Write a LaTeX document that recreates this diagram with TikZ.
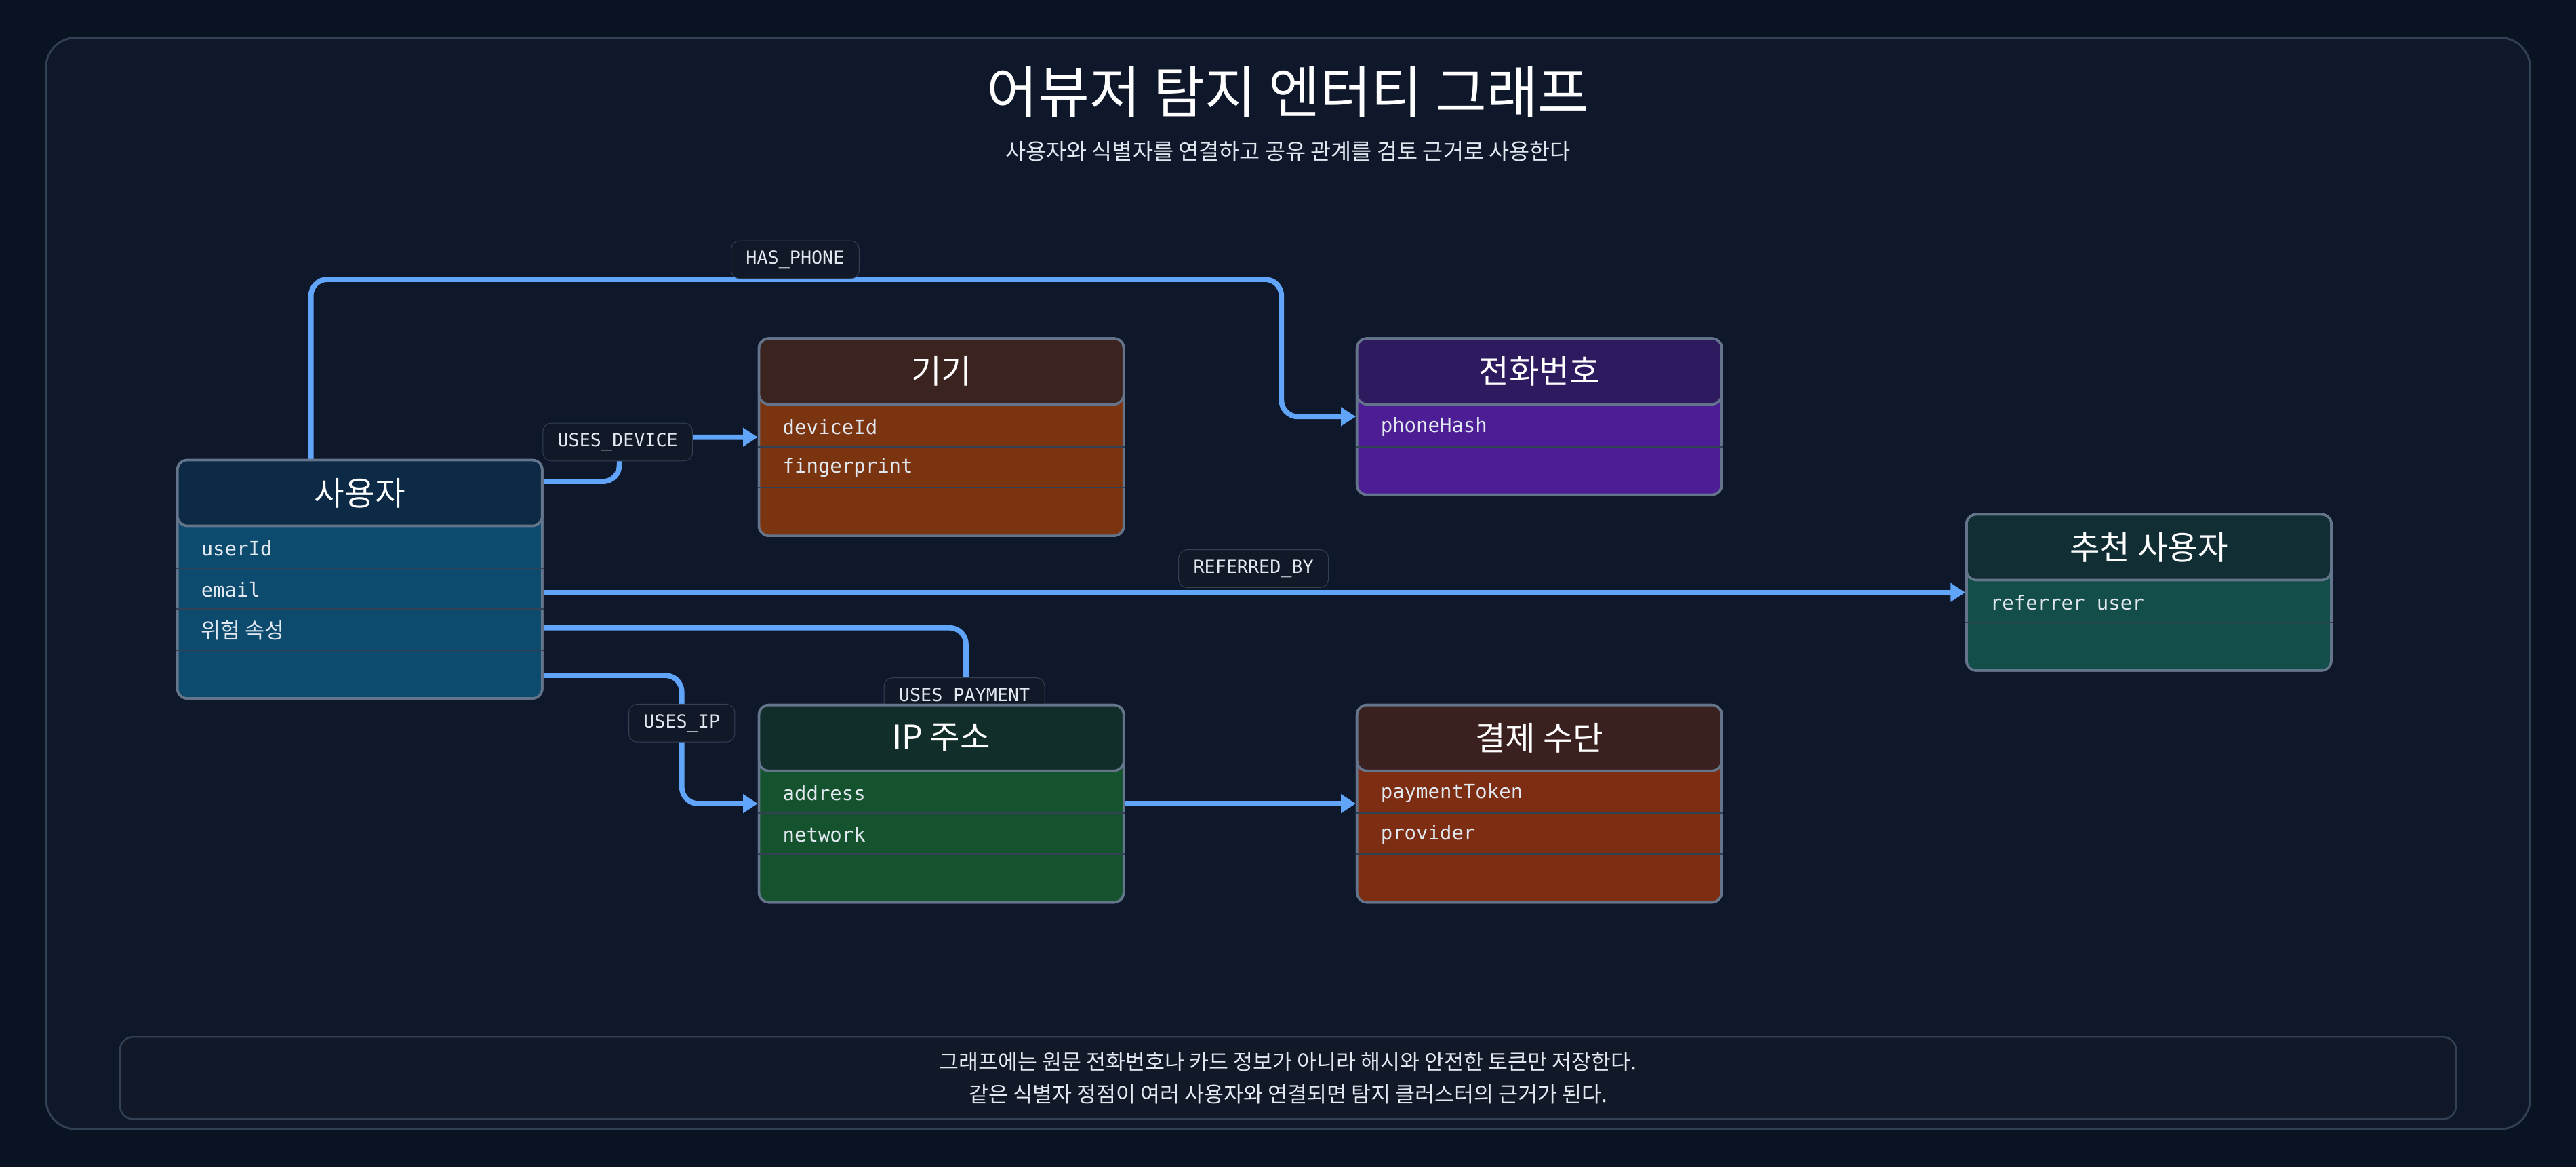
\documentclass[tikz,border=0pt]{standalone}
\usepackage{fontspec}
\setmainfont{Noto Sans CJK KR}
\newfontfamily\monofont{DejaVu Sans Mono}[Scale=0.92]
\usetikzlibrary{calc,positioning,arrows.meta}
\definecolor{mybg}{HTML}{0A1322}
\definecolor{mypanel}{HTML}{0F172A}
\definecolor{myline}{HTML}{334155}
\definecolor{myborder}{HTML}{64748B}
\definecolor{myedge}{HTML}{60A5FA}
\definecolor{mylabel}{HTML}{111827}
\definecolor{mytext}{HTML}{E2E8F0}
\definecolor{usrhead}{HTML}{0C2A45}\definecolor{usrbody}{HTML}{0C4A6E}
\definecolor{devhead}{HTML}{3B2320}\definecolor{devbody}{HTML}{7A3510}
\definecolor{phnhead}{HTML}{2E1A5E}\definecolor{phnbody}{HTML}{4C1D95}
\definecolor{refhead}{HTML}{112E35}\definecolor{refbody}{HTML}{134E4A}
\definecolor{iphead}{HTML}{112E2A}\definecolor{ipbody}{HTML}{14532D}
\definecolor{payhead}{HTML}{3B2020}\definecolor{paybody}{HTML}{7C2D12}

\begin{document}
\begin{tikzpicture}[
  x=1pt, y=-1pt,
  entity/.style={
    draw=myborder,
    line width=1.5pt,
    rounded corners=6pt,
    minimum width=222pt,
    inner sep=0pt
    },
  head/.style={
    entity,
    minimum height=40pt,
    text=white,
    font=\fontsize{20}{24}\selectfont
    },
  field/.style={
    anchor=west,
    text=mytext,
    inner sep=0pt,
    font=\monofont\fontsize{13}{15}\selectfont
    },
  edge/.style={
    draw=myedge,
    line width=3.2pt,
    rounded corners=10pt,
    -{Triangle[length=9pt,width=11pt]}
    },
  elabel/.style={
    fill=mylabel,
    draw=myline,
    rounded corners=5pt,
    text=mytext,
    inner xsep=9pt,
    minimum height=23pt,
    font=\monofont\fontsize{12}{14}\selectfont
  }
]

\fill[mybg] (0,0) rectangle (1568,710);
\draw[fill=mypanel, draw=myline, line width=1.2pt, rounded corners=18pt] (28,23) rectangle (1540,687);

\node[text=white, font=\fontsize{34}{40}\selectfont] (title) at (784,56) {어뷰저 탐지 엔터티 그래프};
\node[text=mytext, font=\fontsize{13.5}{16}\selectfont] (subtitle) at (784,92) {사용자와 식별자를 연결하고 공유 관계를 검토 근거로 사용한다};

% entity boxes (bodies)
\node[entity, fill=usrbody, minimum height=145pt] (user) at (219,352.5) {};
\node[entity, fill=devbody, minimum height=120pt] (device) at (573,266) {};
\node[entity, fill=phnbody, minimum height=95pt] (phone) at (937,253.5) {};
\node[entity, fill=refbody, minimum height=95pt] (referrer) at (1308,360.5) {};
\node[entity, fill=ipbody, minimum height=120pt] (ip) at (573,489) {};
\node[entity, fill=paybody, minimum height=120pt] (payment) at (937,489) {};

\coordinate (phonebend) at (780,170);
\coordinate (paybend) at (588,382);
\coordinate (ipbend) at (415,411);
\coordinate (devbend) at (377,293);

% edges
\begin{scope}[on background layer/.style={}]
\draw[edge] ([xshift=82pt]user.north west) |- (phonebend) -- (phonebend |- phone.west) -- (phone.west);
\draw[edge] (user.east |- devbend) -- (devbend) -- (devbend |- device.west) -- (device.west);
\draw[edge] (user.east |- referrer.west) -- (referrer.west);
\draw[edge] (user.east |- paybend) -- (paybend) -- (paybend |- payment.west) -- (payment.west);
\draw[edge] (user.east |- ipbend) -- (ipbend) -- (ipbend |- ip.west) -- (ip.west);
\end{scope}

\node[elabel] (lphone) at (484,158) {HAS\_PHONE};
\node[elabel] (ldevice) at (376,269) {USES\_DEVICE};
\node[elabel] (lref) at (763,346) {REFERRED\_BY};
\node[elabel] (lpay) at (587,424) {USES\_PAYMENT};
\node[elabel] (lip) at (415,440) {USES\_IP};

% redraw boxes on top of edges
\node[entity, fill=usrbody, minimum height=145pt] at (user) {};
\node[entity, fill=devbody, minimum height=120pt] at (device) {};
\node[entity, fill=phnbody, minimum height=95pt] at (phone) {};
\node[entity, fill=refbody, minimum height=95pt] at (referrer) {};
\node[entity, fill=ipbody, minimum height=120pt] at (ip) {};
\node[entity, fill=paybody, minimum height=120pt] at (payment) {};

% headers
\foreach \Ent/\Col/\Title in {user/usrhead/사용자, device/devhead/기기, phone/phnhead/전화번호, referrer/refhead/추천 사용자, ip/iphead/IP 주소, payment/payhead/결제 수단}
  \node[head, fill=\Col, anchor=north] (\Ent-h) at (\Ent.north) {\Title};

% fields
\foreach \Ent/\Fields in {user/{userId,email}, device/{deviceId,fingerprint}, phone/{phoneHash}, referrer/{referrer user}, ip/{address,network}, payment/{paymentToken,provider}}
  \foreach \F [count=\Fi from 0] in \Fields {
    \node[field] (\Ent-f\Fi) at ([xshift=15pt, yshift=-13pt-25*\Fi pt]\Ent-h.south west) {\F};
    \draw[myline, line width=1pt] ([yshift=-25pt-25*\Fi pt]\Ent-h.south west) -- ([yshift=-25pt-25*\Fi pt]\Ent-h.south east);
  }
\node[field, font=\fontsize{13}{15}\selectfont] (user-f2) at ([xshift=15pt, yshift=-63pt]user-h.south west) {위험 속성};
\draw[myline, line width=1pt] ([yshift=-75pt]user-h.south west) -- ([yshift=-75pt]user-h.south east);

% footer note
\node[draw=myline, fill=mylabel, line width=1pt, rounded corners=8pt, minimum width=1422pt, minimum height=50pt,
  text=mytext, align=center, font=\fontsize{13}{20}\selectfont] (note) at (784,656)
  {그래프에는 원문 전화번호나 카드 정보가 아니라 해시와 안전한 토큰만 저장한다.\\
   같은 식별자 정점이 여러 사용자와 연결되면 탐지 클러스터의 근거가 된다.};
\end{tikzpicture}
\end{document}
